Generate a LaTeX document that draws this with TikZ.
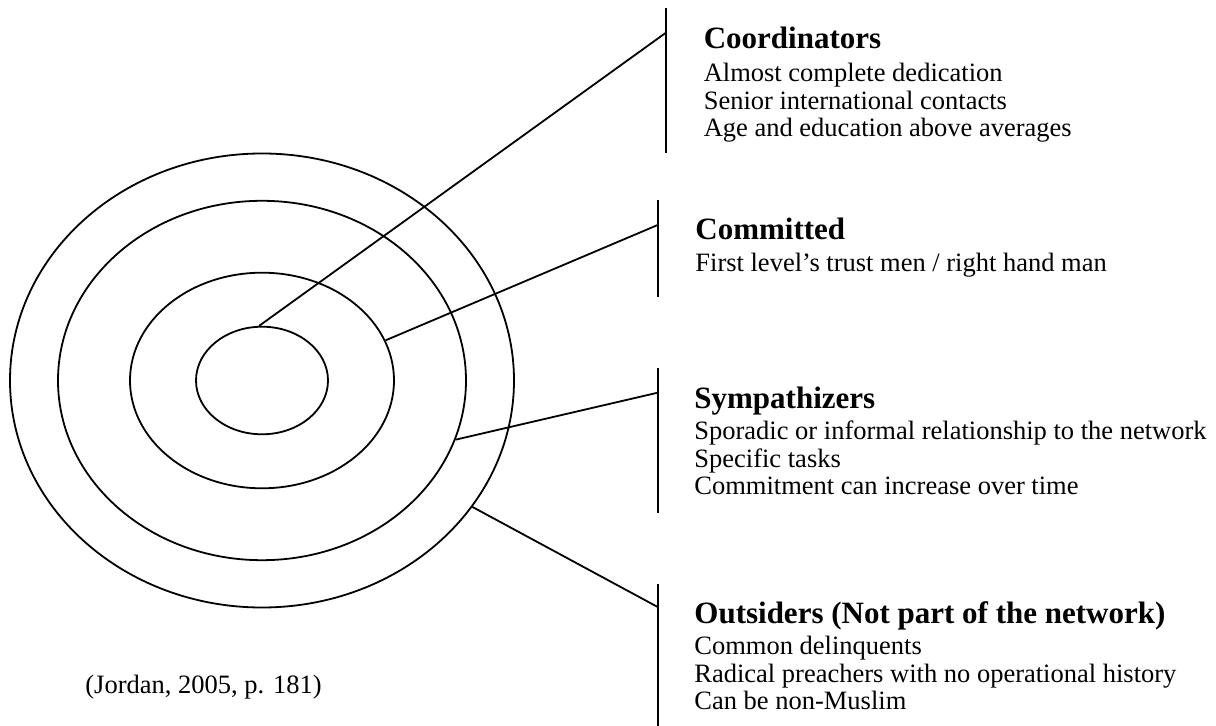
\documentclass[tikz,border=0pt]{standalone}
\usepackage{fontspec}
\setmainfont{Liberation Serif}
\usetikzlibrary{shapes.geometric}
\newcommand\lines[1]{\begin{tabular}[t]{@{}l@{}}#1\end{tabular}}

\begin{document}
\begin{tikzpicture}[x=0.5pt,y=-0.5pt,
		ring/.style={draw,ellipse,line width=0.9pt,inner sep=0pt},
		bar/.style={line width=1pt},
		lead/.style={line width=0.9pt},
		head/.style={anchor=base west,inner sep=0pt,font=\fontsize{15.5}{18}\selectfont\bfseries},
		body/.style={anchor=base west,inner sep=0pt,font=\fontsize{13.25}{13.75}\selectfont}]
	\useasboundingbox (0,0) rectangle (1216,726);
	% the four rings
	\node[ring,minimum width=252pt,minimum height=227pt] (rOut) at (262,380.5) {};
	\node[ring,minimum width=204pt,minimum height=179.7pt] (rSym) at (262,380.5) {};
	\node[ring,minimum width=132pt,minimum height=107.8pt] (rCom) at (262,380.5) {};
	\node[ring,minimum width=66pt,minimum height=53.8pt] (rCoo) at (262,380.5) {};
	% bars and where the leaders meet them
	\coordinate (barCooT) at (665.5,8);   \coordinate (barCooB) at (665.5,153);
	\coordinate (barComT) at (657.7,200); \coordinate (barComB) at (657.7,297);
	\coordinate (barSymT) at (657.7,368); \coordinate (barSymB) at (657.7,513);
	\coordinate (barOutT) at (657.7,584); \coordinate (barOutB) at (657.7,726);
	\coordinate (kCoo) at (665.5,33);
	\coordinate (kCom) at (657.7,225);
	\coordinate (kSym) at (657.7,392.7);
	\coordinate (kOut) at (657.7,607);
	\draw[bar] (barCooT) -- (barCooB);
	\draw[bar] (barComT) -- (barComB);
	\draw[bar] (barSymT) -- (barSymB);
	\draw[bar] (barOutT) -- (barOutB);
	\draw[lead] (rCoo.93) -- (kCoo);
	\draw[lead] (rCom.18.2) -- (kCom);
	\draw[lead] (rSym.343.4) -- (kSym);
	\draw[lead] (rOut.329.3) -- (kOut);
	% texts
	\node[head] (tCoo) at (703.4,48.3) {Coordinators};
	\node[body] (bCoo) at (703.4,81.7) {\lines{Almost complete dedication\\Senior international contacts\\Age and education above averages}};
	\node[head] (tCom) at (695,240) {Committed};
	\node[body] (bCom) at (695,271.7) {First level’s trust men / right hand man};
	\node[head] (tSym) at (694,408.3) {Sympathizers};
	\node[body] (bSym) at (694,440) {\lines{Sporadic or informal relationship to the network\\Specific tasks\\Commitment can increase over time}};
	\node[head] (tOut) at (694,623.3) {Outsiders (Not part of the network)};
	\node[body] (bOut) at (694,655) {\lines{Common delinquents\\Radical preachers with no operational history\\Can be non-Muslim}};
	\node[body] (cite) at (85,693.3) {(Jordan, 2005, p. 181)};
\end{tikzpicture}
\end{document}
